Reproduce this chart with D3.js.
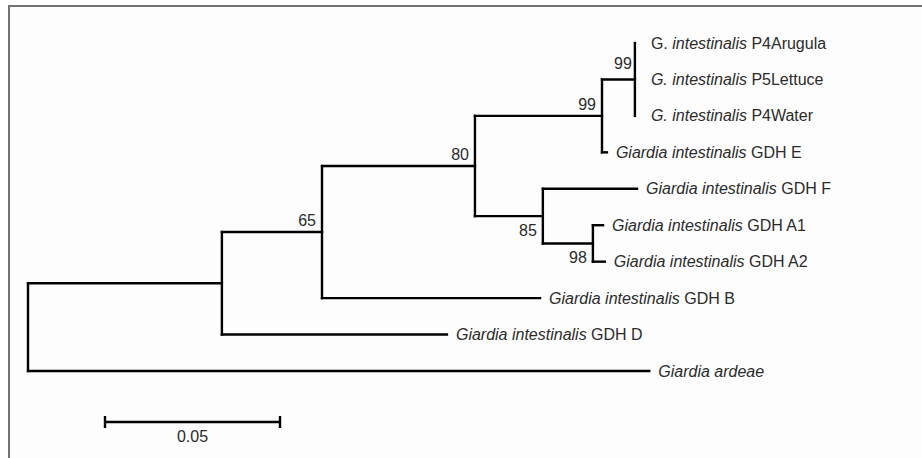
<!DOCTYPE html>
<html>
<head>
<meta charset="utf-8">
<script src="https://cdn.jsdelivr.net/npm/d3@7"></script>
<style>
  body { margin: 0; background: #fff; }
  text { font-family: Arial, "Liberation Sans", sans-serif; }
</style>
</head>
<body>
<div id="chart"></div>
<script>
// tree in preorder: node id, parent id, branch length (substitutions/site)
const nodeIds = ["root", "n1", "n65", "n80", "n99a", "n99b",
  "P4Arugula", "P5Lettuce", "P4Water", "GDH E",
  "n85", "GDH F", "n98", "GDH A1", "GDH A2",
  "GDH B", "GDH D", "ardeae"];
const parentIds = [null, "root", "n1", "n65", "n80", "n99a",
  "n99b", "n99b", "n99b", "n99a",
  "n80", "n85", "n85", "n98", "n98",
  "n65", "n1", "root"];
const branchLengths = [0, 0.0554, 0.0286, 0.0437, 0.0363, 0.0094,
  0, 0, 0, 0.0014,
  0.0194, 0.0269, 0.0143, 0.0029, 0.0034,
  0.0623, 0.0643, 0.1775];

// bootstrap support
const supportNodes = ["n65", "n80", "n99a", "n99b", "n85", "n98"];
const supportValues = [65, 80, 99, 99, 85, 98];

// leaf labels: [plain prefix, italic part, plain suffix]
const leafIds = ["P4Arugula", "P5Lettuce", "P4Water", "GDH E", "GDH F", "GDH A1", "GDH A2", "GDH B", "GDH D", "ardeae"];
const leafLabels = [
  ["G. ", "intestinalis", " P4Arugula"],
  ["", "G. intestinalis", " P5Lettuce"],
  ["", "G. intestinalis", " P4Water"],
  ["", "Giardia intestinalis", " GDH E"],
  ["", "Giardia intestinalis", " GDH F"],
  ["", "Giardia intestinalis", " GDH A1"],
  ["", "Giardia intestinalis", " GDH A2"],
  ["", "Giardia intestinalis", " GDH B"],
  ["", "Giardia intestinalis", " GDH D"],
  ["", "Giardia ardeae", ""]
];

const scaleBarValue = 0.05;
const scaleBarLabel = "0.05";

const width = 922, height = 458;

const svg = d3.select("#chart").append("svg")
  .attr("width", width)
  .attr("height", height);

svg.append("rect")
  .attr("x", 9).attr("y", 6)
  .attr("width", width - 9).attr("height", height - 6)
  .attr("fill", "#fdfdfd");
svg.append("path")
  .attr("d", `M9,${height} V6 H${width}`)
  .attr("fill", "none")
  .attr("stroke", "#737373")
  .attr("stroke-width", 2);

const table = nodeIds.map((id, i) => ({id, parent: parentIds[i], len: branchLengths[i]}));
const root = d3.stratify().id(d => d.id).parentId(d => d.parent)(table);

// cumulative distance from root
root.eachBefore(n => { n.dist = n.parent ? n.parent.dist + n.data.len : 0; });

const x = d3.scaleLinear().domain([0, 0.2]).range([28, 728]);
const y = d3.scalePoint().domain(leafIds).range([43, 371]);

root.eachAfter(n => {
  if (!n.children) n.yy = y(n.id);
  else n.yy = (n.children[0].yy + n.children[n.children.length - 1].yy) / 2;
});

const g = svg.append("g")
  .attr("fill", "none")
  .attr("stroke", "#000")
  .attr("stroke-width", 2.4)
  .attr("stroke-linecap", "square");

// horizontal branches
g.selectAll(".h")
  .data(root.descendants().filter(n => n.parent && n.data.len > 0))
  .join("line")
  .attr("x1", n => x(n.parent.dist))
  .attr("x2", n => x(n.dist))
  .attr("y1", n => n.yy)
  .attr("y2", n => n.yy);

// vertical connectors
g.selectAll(".v")
  .data(root.descendants().filter(n => n.children))
  .join("line")
  .attr("x1", n => x(n.dist))
  .attr("x2", n => x(n.dist))
  .attr("y1", n => n.children[0].yy)
  .attr("y2", n => n.children[n.children.length - 1].yy);

// leaf labels
const leaves = root.leaves();
const lab = svg.append("g")
  .selectAll("text")
  .data(leaves)
  .join("text")
  .attr("x", n => x(n.dist) + (n.data.len > 0 ? 9 : 16))
  .attr("y", n => n.yy)
  .attr("dy", "0.35em")
  .attr("font-size", 16)
  .attr("fill", "#2b2b2b");
lab.each(function(n) {
  const parts = leafLabels[leafIds.indexOf(n.id)];
  const t = d3.select(this);
  if (parts[0]) t.append("tspan").text(parts[0]);
  t.append("tspan").attr("font-style", "italic").text(parts[1]);
  if (parts[2]) t.append("tspan").text(parts[2]);
});

// bootstrap values
const below = new Set(["n85", "n98"]);
svg.append("g")
  .selectAll("text")
  .data(supportNodes)
  .join("text")
  .attr("text-anchor", "end")
  .attr("font-size", 16)
  .attr("fill", "#2b2b2b")
  .attr("x", id => x(root.find(n => n.id === id).dist) - (id === "n99b" ? 3 : 6))
  .attr("y", id => {
    const n = root.find(m => m.id === id);
    return below.has(id) ? n.yy + 20 : n.yy - (id === "n99b" ? 10 : 6);
  })
  .text((id, i) => supportValues[i]);

// scale bar
const sb = svg.append("g").attr("transform", "translate(105,422)");
const len = x(scaleBarValue) - x(0);
sb.append("path")
  .attr("d", `M0,0 H${len} M0,-6 V6 M${len},-6 V6`)
  .attr("fill", "none")
  .attr("stroke", "#000")
  .attr("stroke-width", 2.4);
sb.append("text")
  .attr("x", len / 2)
  .attr("y", 20)
  .attr("text-anchor", "middle")
  .attr("font-size", 16)
  .attr("fill", "#2b2b2b")
  .text(scaleBarLabel);
</script>
</body>
</html>
